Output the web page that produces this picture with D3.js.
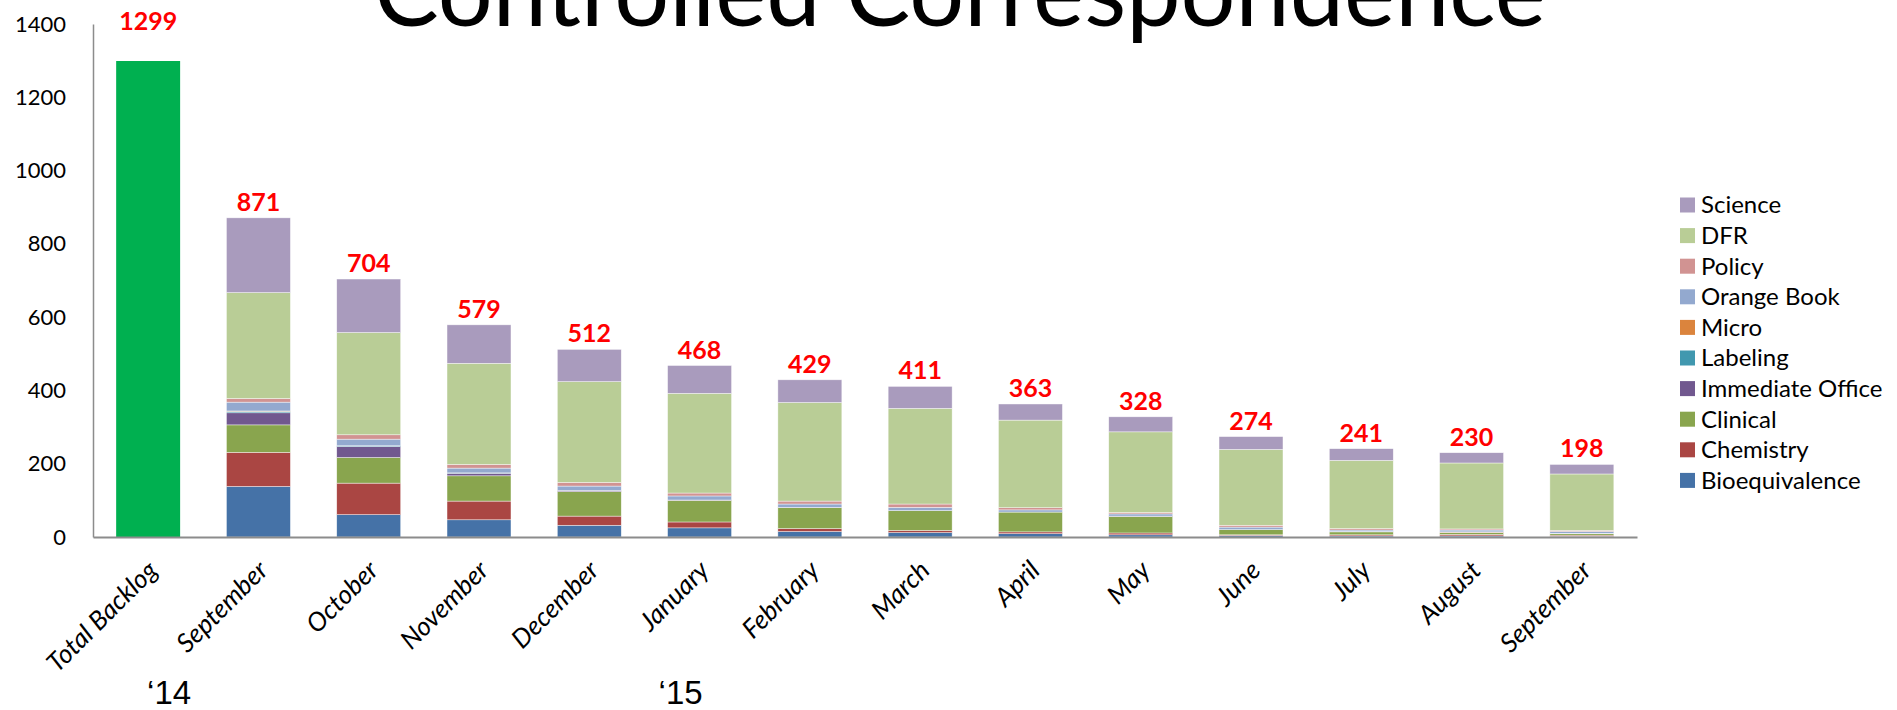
<!DOCTYPE html>
<html>
<head>
<meta charset="utf-8">
<script src="https://cdn.jsdelivr.net/npm/d3@7/dist/d3.min.js"></script>
<style>
  body { margin: 0; background: #fff; }
  svg { display: block; }
</style>
</head>
<body>
<script>

let width = 1897,
    height = 710;

// categories (first one is the total backlog bar)
let categories = ["Total Backlog", "September", "October", "November", "December", "January",
  "February", "March", "April", "May", "June", "July", "August", "September"];

let totalBacklog = 1299;

// monthly values, Sep '14 .. Sep '15
let bioequivalence  = [138, 61, 47, 32, 25, 15, 12,  9,  6,  4,  3,  3,  2];
let chemistry       = [ 93, 86, 51, 25, 16,  8,  6,  5,  5,  2,  3,  4,  3];
let clinical        = [ 75, 70, 69, 67, 59, 57, 54, 54, 45, 14,  8,  5,  4];
let immediateOffice = [ 33, 30,  7,  3,  1,  1,  0,  0,  1,  0,  1,  1,  1];
let labeling        = [  4,  2,  1,  0,  0,  0,  0,  0,  0,  0,  0,  0,  0];
let micro           = [  1,  0,  0,  0,  0,  0,  0,  0,  0,  0,  0,  1,  0];
let orangeBook      = [ 24, 18, 13, 12, 11,  9,  9,  6,  6,  7,  4,  5,  5];
let policy          = [ 10, 12, 10, 10,  8,  8,  9,  6,  4,  5,  4,  3,  3];
let dfr             = [289,279,276,275,272,269,261,239,220,207,186,180,154];
let science         = [204,146,105, 88, 76, 62, 60, 44, 41, 35, 32, 28, 26];

let seriesNames = ["Bioequivalence", "Chemistry", "Clinical", "Immediate Office", "Labeling",
  "Micro", "Orange Book", "Policy", "DFR", "Science"];
let seriesValues = [bioequivalence, chemistry, clinical, immediateOffice, labeling,
  micro, orangeBook, policy, dfr, science];
let seriesColors = ["#4572A7", "#AA4643", "#89A54E", "#71588F", "#4198AF",
  "#DB843D", "#93A9CF", "#D19392", "#B9CD96", "#A99BBD"];

let yTicks = [0, 200, 400, 600, 800, 1000, 1200, 1400];

let yearLabels = [
  { text: "\u201814", at: 0, dx: 21 },
  { text: "\u201815", at: 5, dx: -19 }
];

// build rows for the stack (month index shifted by one for the total bar)
let rows = d3.range(bioequivalence.length).map(function(i) {
  let r = { idx: i + 1 };
  seriesNames.forEach(function(s, k) { r[s] = seriesValues[k][i]; });
  return r;
});

let svg = d3.select("body").append("svg")
    .attr("width", width)
    .attr("height", height);

let x = d3.scaleBand()
    .domain(d3.range(categories.length))
    .range([93, 1637])
    .paddingInner(0.42)
    .paddingOuter(0.21);

let y = d3.scaleLinear()
    .domain([0, 1400])
    .range([537, 24]);

let color = d3.scaleOrdinal().domain(seriesNames).range(seriesColors);

// title (cut off at top like the slide)
svg.append("text")
    .attr("x", 960)
    .attr("y", 26)
    .attr("text-anchor", "middle")
    .style("font-family", "Lato, sans-serif")
    .style("font-size", "97px")
    .attr("fill", "#000")
    .text("Controlled Correspondence");

// total backlog bar
svg.append("rect")
    .attr("x", x(0))
    .attr("y", y(totalBacklog))
    .attr("width", x.bandwidth())
    .attr("height", y(0) - y(totalBacklog))
    .attr("fill", "#00B050");

// stacked bars
let stack = d3.stack().keys(seriesNames);
let layers = stack(rows);

svg.selectAll(".layer")
  .data(layers)
  .enter().append("g")
    .attr("class", "layer")
    .attr("fill", function(d) { return color(d.key); })
  .selectAll("rect")
  .data(function(d) { return d; })
  .enter().append("rect")
    .attr("x", function(d) { return x(d.data.idx); })
    .attr("y", function(d) { return y(d[1]); })
    .attr("width", x.bandwidth())
    .attr("height", function(d) { return y(d[0]) - y(d[1]); })
    .attr("stroke", "#fff")
    .attr("stroke-width", 0.6)
    .attr("stroke-opacity", 0.7);

// axes
let yAxis = svg.append("g")
    .attr("transform", "translate(93,0)")
    .call(d3.axisLeft(y).tickValues(yTicks).tickFormat(d3.format("d"))
      .tickSize(0).tickSizeOuter(0).tickPadding(27));

let xAxis = svg.append("g")
    .attr("transform", "translate(0," + y(0) + ")")
    .call(d3.axisBottom(x).tickSize(0).tickSizeOuter(0)
      .tickFormat(function(i) { return categories[i]; }));

yAxis.select(".domain").attr("stroke", "#8c8c8c").attr("stroke-width", 1.5);
xAxis.select(".domain").attr("stroke", "#8c8c8c").attr("stroke-width", 2);

yAxis.selectAll("text")
    .style("font-family", "Lato, sans-serif")
    .style("font-size", "22px")
    .attr("fill", "#000");

xAxis.selectAll("text")
    .attr("x", 0).attr("y", 0).attr("dy", 0)
    .attr("text-anchor", "end")
    .attr("transform", "translate(11,35) rotate(-45)")
    .style("font-family", "Lato, sans-serif")
    .style("font-style", "italic")
    .style("font-size", "26px")
    .attr("fill", "#000");

// value labels
let totals = [totalBacklog].concat(rows.map(function(r) {
  return d3.sum(seriesNames, function(s) { return r[s]; });
}));

svg.selectAll(".val")
  .data(totals)
  .enter().append("text")
    .attr("class", "val")
    .attr("x", function(d, i) { return x(i) + x.bandwidth() / 2; })
    .attr("y", function(d, i) { return i === 0 ? y(1400) + 6 : y(d) - 7; })
    .attr("text-anchor", "middle")
    .style("font-family", "Lato, sans-serif")
    .style("font-weight", "bold")
    .style("font-size", "25px")
    .attr("fill", "#FF0000")
    .text(function(d) { return d; });

// year labels
svg.selectAll(".year")
  .data(yearLabels)
  .enter().append("text")
    .attr("class", "year")
    .attr("x", function(d) { return x(d.at) + x.bandwidth() / 2 + d.dx; })
    .attr("y", 704)
    .attr("text-anchor", "middle")
    .style("font-family", "'Liberation Sans Narrow', 'Arial Narrow', sans-serif")
    .style("font-size", "33px")
    .attr("fill", "#000")
    .text(function(d) { return d.text; });

// legend, top to bottom is reverse of stack order
let legendItems = seriesNames.slice().reverse();
let legend = svg.selectAll(".legend")
  .data(legendItems)
  .enter().append("g")
    .attr("class", "legend")
    .attr("transform", function(d, i) { return "translate(1680," + (205 + i * 30.6) + ")"; });

legend.append("rect")
    .attr("x", 0)
    .attr("y", -7.5)
    .attr("width", 15)
    .attr("height", 15)
    .attr("fill", function(d) { return color(d); });

legend.append("text")
    .attr("x", 21)
    .attr("y", 0)
    .attr("dy", "0.35em")
    .style("font-family", "Lato, sans-serif")
    .style("font-size", "24px")
    .attr("fill", "#000")
    .text(function(d) { return d; });

</script>
</body>
</html>
